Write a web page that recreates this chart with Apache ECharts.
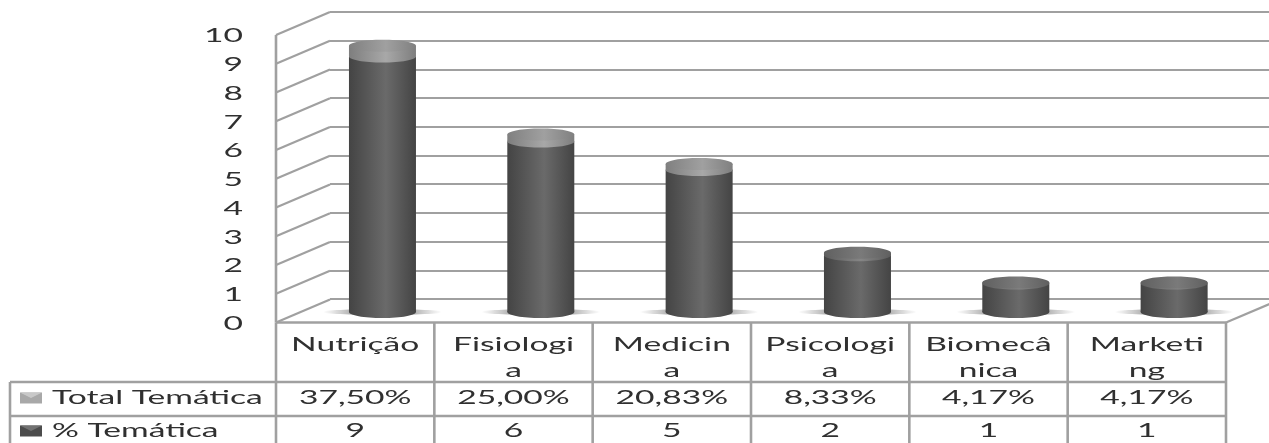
<!DOCTYPE html>
<html lang="pt">
<head>
<meta charset="utf-8">
<title>Temáticas</title>
<script src="https://cdn.jsdelivr.net/npm/echarts@6/dist/echarts.min.js"></script>
<style>
  html, body { margin: 0; padding: 0; background: #fff; }
  #chart { width: 1269px; height: 443px; }
</style>
</head>
<body>
<div id="chart"></div>
<script>
// Chart data
const categories = ['Nutrição', 'Fisiologia', 'Medicina', 'Psicologia', 'Biomecânica', 'Marketing'];
const categoryLines = [['Nutrição'], ['Fisiologi', 'a'], ['Medicin', 'a'], ['Psicologi', 'a'], ['Biomecâ', 'nica'], ['Marketi', 'ng']];
const themeCounts = [9, 6, 5, 2, 1, 1];
const themeShares = [37.5, 25.0, 20.83, 8.33, 4.17, 4.17];
const tickLabels = ['0', '1', '2', '3', '4', '5', '6', '7', '8', '9', '10'];
const seriesNames = ['Total Temática', '% Temática'];

// Layout of the box: front plane, rear wall and the plane the cylinders stand on
const FRONT = { left: 276, top: 35, width: 950, height: 287.5 };
const BACK = { left: 330, top: 12, width: 950, height: 287 };
const MID = { left: 303.3, top: 28, width: 950, height: 284 };
const DEPTH = [54, -23];
const ROWS = { categoryBottom: 382, shareBottom: 416, shareText: 398, countText: 431, tableLeft: 10 };
const LINE = '#a0a0a0';
const TEXT = '#303030';
const RADIUS_X = 33.5, RADIUS_Y = 6;
const FONT_SIZE = 20, STRETCH = 1.68;

function stretchedText(text, x, y, align) {
  return {
    type: 'text', x, y, scaleX: STRETCH, scaleY: 1,
    style: {
      text, x: 0, y: 0, align: align || 'center', verticalAlign: 'middle',
      fontFamily: 'Lato', fontSize: FONT_SIZE, fill: TEXT
    }
  };
}

function line(x1, y1, x2, y2, width) {
  return {
    type: 'line', shape: { x1, y1, x2, y2 },
    style: { stroke: LINE, lineWidth: width || 2.2 }
  };
}

const sideShade = (edge, mid) => ({
  type: 'linear', x: 0, y: 0, x2: 1, y2: 0,
  colorStops: [
    { offset: 0, color: edge }, { offset: 0.55, color: mid }, { offset: 1, color: edge }
  ]
});

// Tick labels, side wall and floor edges of the box
function renderFrame(params, api) {
  const v = api.value(1);
  const y = api.coord([0, v])[1];
  const left = params.coordSys.x;
  const right = left + params.coordSys.width;
  const kids = [
    line(left, y, left + DEPTH[0], y + DEPTH[1]),
    stretchedText(tickLabels[v], left - 33, y + 1, 'right')
  ];
  if (v === 0) {
    kids.push(line(left, y, right, y, 2.6));
    kids.push(line(right, y, right + DEPTH[0], y + DEPTH[1]));
  }
  if (v === 10) {
    kids.push(line(left, y, left, api.coord([0, 0])[1], 2.6));
  }
  return { type: 'group', children: kids };
}

// Data table below the plot, one column per category
function renderTable(params, api) {
  const i = api.value(0);
  const cx = api.coord([i, 0])[0];
  const floorY = api.coord([i, 0])[1];
  const band = api.size([1, 0])[0];
  const r = cx + band / 2;
  const kids = [
    line(r, floorY, r, 443, 2.6),
    line(cx - band / 2, ROWS.categoryBottom, r, ROWS.categoryBottom, 2.6),
    line(cx - band / 2, ROWS.shareBottom, r, ROWS.shareBottom, 2.6),
    stretchedText(themeShares[i].toFixed(2).replace('.', ',') + '%', cx, ROWS.shareText),
    stretchedText(String(themeCounts[i]), cx, ROWS.countText)
  ];
  categoryLines[i].forEach((t, n) => kids.push(stretchedText(t, cx, 345 + n * 25.5)));
  if (i === 0) {
    const l = cx - band / 2;
    const tl = ROWS.tableLeft;
    kids.push(line(l, floorY, l, 443, 2.6));
    kids.push(line(tl, ROWS.categoryBottom, l, ROWS.categoryBottom, 2.6));
    kids.push(line(tl, ROWS.shareBottom, l, ROWS.shareBottom, 2.6));
    kids.push(line(tl, ROWS.categoryBottom, tl, 443, 2.6));
    kids.push(legendKey(20, ROWS.shareText, '#a8a8a8', '#c8c8c8'));
    kids.push(legendKey(20, ROWS.countText, '#4c4c4c', '#727272'));
    kids.push(stretchedText(seriesNames[0], 52, ROWS.shareText, 'left'));
    kids.push(stretchedText(seriesNames[1], 52, ROWS.countText, 'left'));
  }
  return { type: 'group', children: kids };
}

function legendKey(x, y, body, flap) {
  return {
    type: 'group',
    children: [
      { type: 'rect', shape: { x, y: y - 5.5, width: 22, height: 11 }, style: { fill: body } },
      { type: 'polygon', shape: { points: [[x, y - 5.5], [x + 22, y - 5.5], [x + 11, y]] }, style: { fill: flap } }
    ]
  };
}

// Contact shadow and dark lower section of each cylinder
function renderCount(params, api) {
  const i = api.value(0);
  const [cx, base] = api.coord([i, 0]);
  const top = api.coord([i, api.value(1)])[1];
  return {
    type: 'group',
    children: [
      {
        type: 'ellipse', shape: { cx, cy: base, rx: RADIUS_X + 26, ry: 3 },
        style: {
          fill: {
            type: 'linear', x: 0, y: 0, x2: 1, y2: 0,
            colorStops: [
              { offset: 0, color: 'rgba(130,130,130,0)' },
              { offset: 0.3, color: 'rgba(110,110,110,0.7)' },
              { offset: 0.7, color: 'rgba(110,110,110,0.7)' },
              { offset: 1, color: 'rgba(130,130,130,0)' }
            ]
          }
        }
      },
      {
        type: 'ellipse', shape: { cx, cy: base, rx: RADIUS_X, ry: RADIUS_Y },
        style: { fill: sideShade('#444444', '#6a6a6a') }
      },
      {
        type: 'rect', shape: { x: cx - RADIUS_X, y: top, width: RADIUS_X * 2, height: base - top },
        style: { fill: sideShade('#444444', '#6a6a6a') }
      }
    ]
  };
}

// Lighter section stacked on top: the share expressed as a fraction of one unit
function renderShare(params, api) {
  const i = api.value(0);
  const cx = api.coord([i, 0])[0];
  const count = api.value(1);
  const share = api.value(2);
  const low = api.coord([i, count])[1];
  const high = api.coord([i, count + share / 100])[1];
  const bright = share > 10;
  const cap = bright ? sideShade('#7e7e7e', '#a8a8a8') : sideShade('#5c5c5c', '#868686');
  return {
    type: 'group',
    children: [
      { type: 'ellipse', shape: { cx, cy: low, rx: RADIUS_X, ry: RADIUS_Y }, style: { fill: cap } },
      {
        type: 'rect', shape: { x: cx - RADIUS_X, y: high, width: RADIUS_X * 2, height: low - high },
        style: { fill: cap }
      },
      {
        type: 'ellipse', shape: { cx, cy: high, rx: RADIUS_X, ry: RADIUS_Y },
        style: { fill: bright ? sideShade('#808080', '#a0a0a0') : sideShade('#606060', '#7a7a7a') }
      }
    ]
  };
}

const hiddenX = (gridIndex) => ({
  type: 'category', gridIndex, data: categories,
  axisLine: { show: false }, axisTick: { show: false }, axisLabel: { show: false }, splitLine: { show: false }
});
const valueY = (gridIndex, showGrid) => ({
  type: 'value', gridIndex, min: 0, max: 10, interval: 1,
  axisLine: { show: false }, axisTick: { show: false }, axisLabel: { show: false },
  splitLine: { show: showGrid, lineStyle: { color: LINE, width: 2.2 } }
});

const chart = echarts.init(document.getElementById('chart'), null, { renderer: 'canvas' });
chart.setOption({
  animation: false,
  backgroundColor: '#fff',
  grid: [FRONT, BACK, MID].map((g) => ({ ...g, containLabel: false })),
  xAxis: [hiddenX(0), hiddenX(1), hiddenX(2)],
  yAxis: [valueY(0, false), valueY(1, true), valueY(2, false)],
  series: [
    {
      type: 'custom', name: 'frame', xAxisIndex: 0, yAxisIndex: 0, clip: false, silent: true, z: 1,
      renderItem: renderFrame,
      data: tickLabels.map((t) => [0, Number(t)])
    },
    {
      type: 'custom', name: 'table', xAxisIndex: 0, yAxisIndex: 0, clip: false, silent: true, z: 2,
      renderItem: renderTable,
      data: categories.map((c, i) => [i, 0])
    },
    {
      type: 'custom', name: seriesNames[1], xAxisIndex: 2, yAxisIndex: 2, clip: false, z: 3,
      renderItem: renderCount,
      encode: { x: 0, y: 1 },
      data: themeCounts.map((v, i) => [i, v])
    },
    {
      type: 'custom', name: seriesNames[0], xAxisIndex: 2, yAxisIndex: 2, clip: false, z: 4,
      renderItem: renderShare,
      encode: { x: 0, y: 1 },
      data: themeCounts.map((v, i) => [i, v, themeShares[i]])
    }
  ]
});
</script>
</body>
</html>
